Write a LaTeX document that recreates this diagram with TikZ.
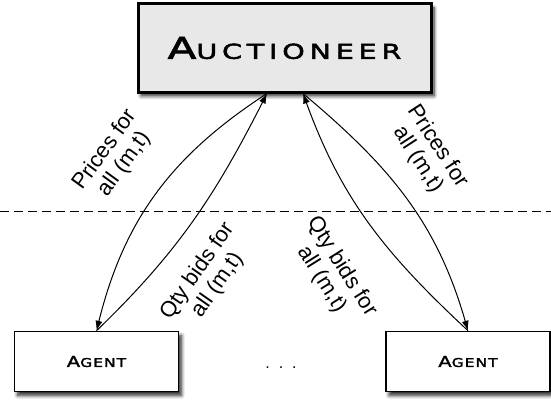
\documentclass[tikz,border=0pt]{standalone}
\usepackage{fontspec}
\setmainfont{Liberation Sans}
\newfontfamily\aucfont{DejaVu Sans}[FakeStretch=1.4,LetterSpace=23,FakeBold=2.5]
\newfontfamily\agtfont{DejaVu Sans}[FakeStretch=1.3,LetterSpace=8,FakeBold=2]
\usetikzlibrary{arrows.meta,shadows.blur,positioning}

\tikzset{
  boxshadow/.style={blur shadow={shadow xshift=3pt,shadow yshift=-4pt,shadow blur steps=8,shadow blur radius=3.5pt,shadow opacity=85}},
  aucbox/.style={draw,line width=3pt,fill=gray!18,minimum width=293pt,minimum height=88pt,boxshadow},
  agentbox/.style={draw,line width=1.5pt,fill=white,minimum width=164pt,minimum height=60pt,boxshadow},
  lbl/.style={align=center,inner sep=0pt,font=\fontsize{22}{24}\selectfont},
  divider/.style={dash pattern=on 9pt off 5pt,line width=0.9pt}
}

\begin{document}
\begin{tikzpicture}[x=1pt,y=1pt,>={Latex[length=10pt,width=7pt]},on grid,line width=1pt]
  \useasboundingbox (0,0) rectangle (551,400);

  \node[aucbox] (auc) at (284.5,352) {{\aucfont\fontsize{30}{30}\selectfont A\fontsize{20.5}{30}\selectfont UCTIONEER}};
  \node[agentbox] (agent1) at (96.5,38.5) {{\agtfont\fontsize{15}{15}\selectfont A\fontsize{12}{15}\selectfont GENT}};
  \node[agentbox] (agent2) [right=371.5pt of agent1] {{\agtfont\fontsize{15}{15}\selectfont A\fontsize{12}{15}\selectfont GENT}};
  \node (dots) [right=184.5pt of agent1,yshift=-6.5pt] {\fontsize{16}{16}\selectfont .\hspace{9pt}.\hspace{9pt}.};

  \coordinate (aucL) at ([xshift=-17.5pt]auc.south);
  \coordinate (aucR) at ([xshift=18.5pt]auc.south);
  \coordinate (cutL) at (0,189);
  \coordinate (cutR) at (551,189);

  \draw[divider] (cutL) -- (cutR);

  \path[->] (aucL) edge [out=213,in=76] (agent1.north)
            (agent1.north) edge [out=44,in=243] (aucL)
            (agent2.north) edge [out=137,in=290] (aucR)
            (aucR) edge [out=320,in=106] (agent2.north);

  \node[lbl,rotate=54] (pricesL) at (115,243) {Prices for\\all (m,t)};
  \node[lbl,rotate=55] (qtyL) at (208,122) {Qty bids for\\all (m,t)};
  \node[lbl,rotate=-57] (pricesR) at (428,247) {Prices for\\all (m,t)};
  \node[lbl,rotate=-58] (qtyR) at (332,127) {Qty bids for\\all (m,t)};
\end{tikzpicture}
\end{document}
